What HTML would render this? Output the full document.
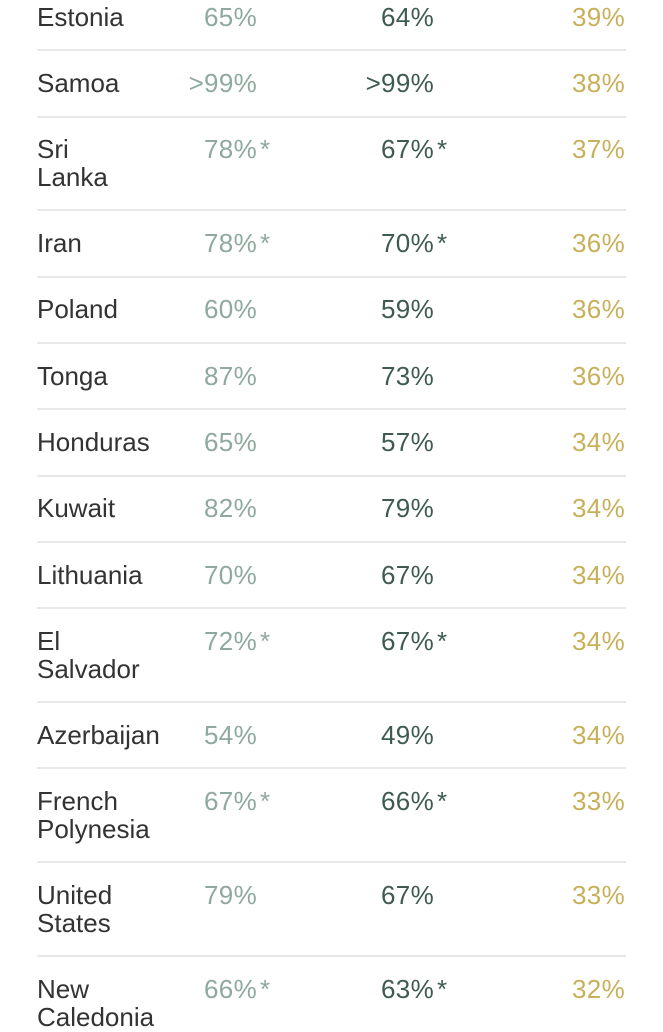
<!DOCTYPE html>
<html><head><meta charset="utf-8"><style>
body{margin:0;width:663px;height:1024px;overflow:hidden;background:#fff;font-family:"Liberation Sans",sans-serif;font-size:26px;}
.r{position:absolute;left:0;width:663px;line-height:27.5px;}
.n{position:absolute;left:37px;color:#333;}
.a{position:absolute;right:406px;color:#8fa99e;letter-spacing:0.3px}
.b{position:absolute;right:229px;color:#3e5a52;letter-spacing:0.3px}
.c{position:absolute;right:38px;color:#c8b05a;letter-spacing:0.3px}
.s{position:absolute;left:100%;margin-left:3px;}
.l{position:absolute;left:37px;width:589px;height:2px;background:#e8e8e8;}
</style></head><body>
<div class="r" style="top:4px"><span class="n">Estonia</span><span class="a">65%</span><span class="b">64%</span><span class="c">39%</span></div>
<div class="l" style="top:49px"></div>
<div class="r" style="top:70px"><span class="n">Samoa</span><span class="a">&gt;99%</span><span class="b">&gt;99%</span><span class="c">38%</span></div>
<div class="l" style="top:116px"></div>
<div class="r" style="top:136px"><span class="n">Sri<br>Lanka</span><span class="a">78%<span class="s">*</span></span><span class="b">67%<span class="s">*</span></span><span class="c">37%</span></div>
<div class="l" style="top:209px"></div>
<div class="r" style="top:230px"><span class="n">Iran</span><span class="a">78%<span class="s">*</span></span><span class="b">70%<span class="s">*</span></span><span class="c">36%</span></div>
<div class="l" style="top:276px"></div>
<div class="r" style="top:296px"><span class="n">Poland</span><span class="a">60%</span><span class="b">59%</span><span class="c">36%</span></div>
<div class="l" style="top:342px"></div>
<div class="r" style="top:363px"><span class="n">Tonga</span><span class="a">87%</span><span class="b">73%</span><span class="c">36%</span></div>
<div class="l" style="top:408px"></div>
<div class="r" style="top:429px"><span class="n">Honduras</span><span class="a">65%</span><span class="b">57%</span><span class="c">34%</span></div>
<div class="l" style="top:475px"></div>
<div class="r" style="top:495px"><span class="n">Kuwait</span><span class="a">82%</span><span class="b">79%</span><span class="c">34%</span></div>
<div class="l" style="top:541px"></div>
<div class="r" style="top:562px"><span class="n">Lithuania</span><span class="a">70%</span><span class="b">67%</span><span class="c">34%</span></div>
<div class="l" style="top:607px"></div>
<div class="r" style="top:628px"><span class="n">El<br>Salvador</span><span class="a">72%<span class="s">*</span></span><span class="b">67%<span class="s">*</span></span><span class="c">34%</span></div>
<div class="l" style="top:701px"></div>
<div class="r" style="top:722px"><span class="n">Azerbaijan</span><span class="a">54%</span><span class="b">49%</span><span class="c">34%</span></div>
<div class="l" style="top:767px"></div>
<div class="r" style="top:788px"><span class="n">French<br>Polynesia</span><span class="a">67%<span class="s">*</span></span><span class="b">66%<span class="s">*</span></span><span class="c">33%</span></div>
<div class="l" style="top:861px"></div>
<div class="r" style="top:882px"><span class="n">United<br>States</span><span class="a">79%</span><span class="b">67%</span><span class="c">33%</span></div>
<div class="l" style="top:955px"></div>
<div class="r" style="top:976px"><span class="n">New<br>Caledonia</span><span class="a">66%<span class="s">*</span></span><span class="b">63%<span class="s">*</span></span><span class="c">32%</span></div>
</body></html>
